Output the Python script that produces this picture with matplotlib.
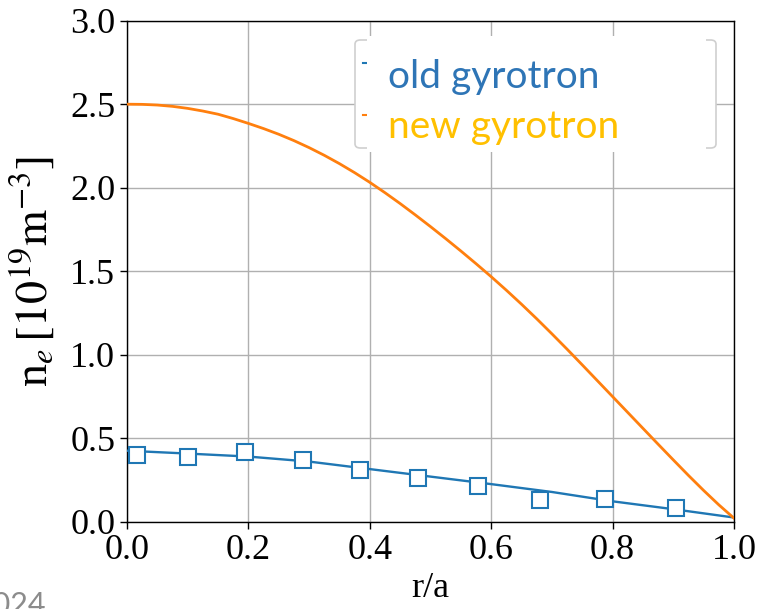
import matplotlib
matplotlib.use("Agg")
import matplotlib.pyplot as plt
from matplotlib.patches import FancyBboxPatch, Rectangle
from matplotlib.lines import Line2D

# ---- data -------------------------------------------------------------
# measured profile, old gyrotron (markers)
r_old_pts = [0.016, 0.100, 0.195, 0.290, 0.384, 0.479, 0.578, 0.680, 0.787, 0.905]
ne_old_pts = [0.40, 0.387, 0.417, 0.368, 0.312, 0.259, 0.215, 0.130, 0.133, 0.080]

# fitted profile, old gyrotron
r_old_fit = [0.0, 0.1, 0.2, 0.3, 0.4, 0.5, 0.6, 0.7, 0.8, 0.9, 1.0]
ne_old_fit = [0.425, 0.408, 0.390, 0.360, 0.315, 0.270, 0.225, 0.178, 0.122, 0.075, 0.025]

# predicted profile, new gyrotron (sampled every 0.025 in r/a)
r_new = [i * 0.025 for i in range(41)]
ne_new = [2.500, 2.499, 2.495, 2.487, 2.475, 2.459, 2.440, 2.414, 2.385, 2.354,
          2.320, 2.282, 2.240, 2.194, 2.144, 2.090, 2.032, 1.970, 1.905, 1.837,
          1.767, 1.695, 1.621, 1.545, 1.467, 1.386, 1.302, 1.215, 1.125, 1.033,
          0.939, 0.844, 0.749, 0.654, 0.559, 0.464, 0.370, 0.277, 0.187, 0.101,
          0.021]

legend_labels = ["old gyrotron", "new gyrotron"]
x_ticks = [0.0, 0.2, 0.4, 0.6, 0.8, 1.0]
y_ticks = [0.0, 0.5, 1.0, 1.5, 2.0, 2.5, 3.0]

# ---- style ------------------------------------------------------------
plt.rcParams["font.family"] = ["Liberation Serif", "DejaVu Serif"]
plt.rcParams["mathtext.fontset"] = "stix"

W, H = 761, 609
fig = plt.figure(figsize=(W / 100, H / 100), dpi=100)
fig.patch.set_facecolor("white")


def px(x, y):
    """pixel position (from top-left) -> figure fraction"""
    return x / W, 1 - y / H


ax_l, ax_r, ax_t, ax_b = 127, 734, 20.7, 521.7
ax = fig.add_axes([ax_l / W, 1 - ax_b / H, (ax_r - ax_l) / W, (ax_b - ax_t) / H])

blue = "#1f77b4"
orange = "#ff7f0e"

ax.plot(r_old_fit, ne_old_fit, color=blue, lw=1.7, zorder=3)
ax.plot(r_old_pts, ne_old_pts, ls="none", marker="s", ms=11.5, mfc="white",
        mec=blue, mew=1.5, zorder=4)
ax.plot(r_new, ne_new, color=orange, lw=2.0, zorder=3)

ax.set_xlim(0, 1)
ax.set_ylim(0, 3)
ax.set_xticks(x_ticks)
ax.set_yticks(y_ticks)
ax.set_xticklabels([f"{v:.1f}" for v in x_ticks])
ax.set_yticklabels([f"{v:.1f}" for v in y_ticks])
ax.tick_params(labelsize=26, length=5, width=1, direction="out", pad=3.5)
ax.grid(True, color="#b0b0b0", lw=1.0)
ax.set_axisbelow(True)
for s in ax.spines.values():
    s.set_linewidth(1.0)
    s.set_color("black")

ax.set_xlabel("r/a", fontsize=26, labelpad=4)
ax.set_ylabel(r"n$_e\,[10^{19}\mathrm{m}^{-3}]$", fontsize=33)
ax.yaxis.set_label_coords((57 - ax_l) / (ax_r - ax_l), 0.5)

# ---- legend box --------------------------------------------------------
x0, y0 = px(355, 148)
x1, y1 = px(716, 40)
frame = FancyBboxPatch((x0, y0), x1 - x0, y1 - y0, transform=fig.transFigure,
                       boxstyle="round,pad=0,rounding_size=0.007",
                       fc="white", ec="#cfcfcf", lw=1.2, zorder=10)
fig.add_artist(frame)

hx0, _ = px(363, 0)
hx1, _ = px(372, 0)
for yy, c in [(63, blue), (115, orange)]:
    _, fy = px(0, yy)
    fig.add_artist(Line2D([hx0, hx1], [fy, fy], transform=fig.transFigure,
                          color=c, lw=1.5, zorder=11))

cx0, cy0 = px(367, 152)
cx1, cy1 = px(706, 36)
fig.add_artist(Rectangle((cx0, cy0), cx1 - cx0, cy1 - cy0, transform=fig.transFigure,
                         fc="white", ec="none", zorder=12))

for lab, yy, c in [(legend_labels[0], 88, "#2e75b6"), (legend_labels[1], 138, "#ffc000")]:
    tx, ty = px(388, yy)
    fig.text(tx, ty, lab, color=c, fontsize=28, family=["Lato", "DejaVu Sans"],
             ha="left", va="baseline", zorder=13)

# footer year
fx, fy = px(-24, 614)
fig.text(fx, fy, "2024", color="#8c8c8c", fontsize=22, family=["Lato", "DejaVu Sans"],
         ha="left", va="baseline")

fig.savefig("out.png", dpi=100, facecolor="white")
